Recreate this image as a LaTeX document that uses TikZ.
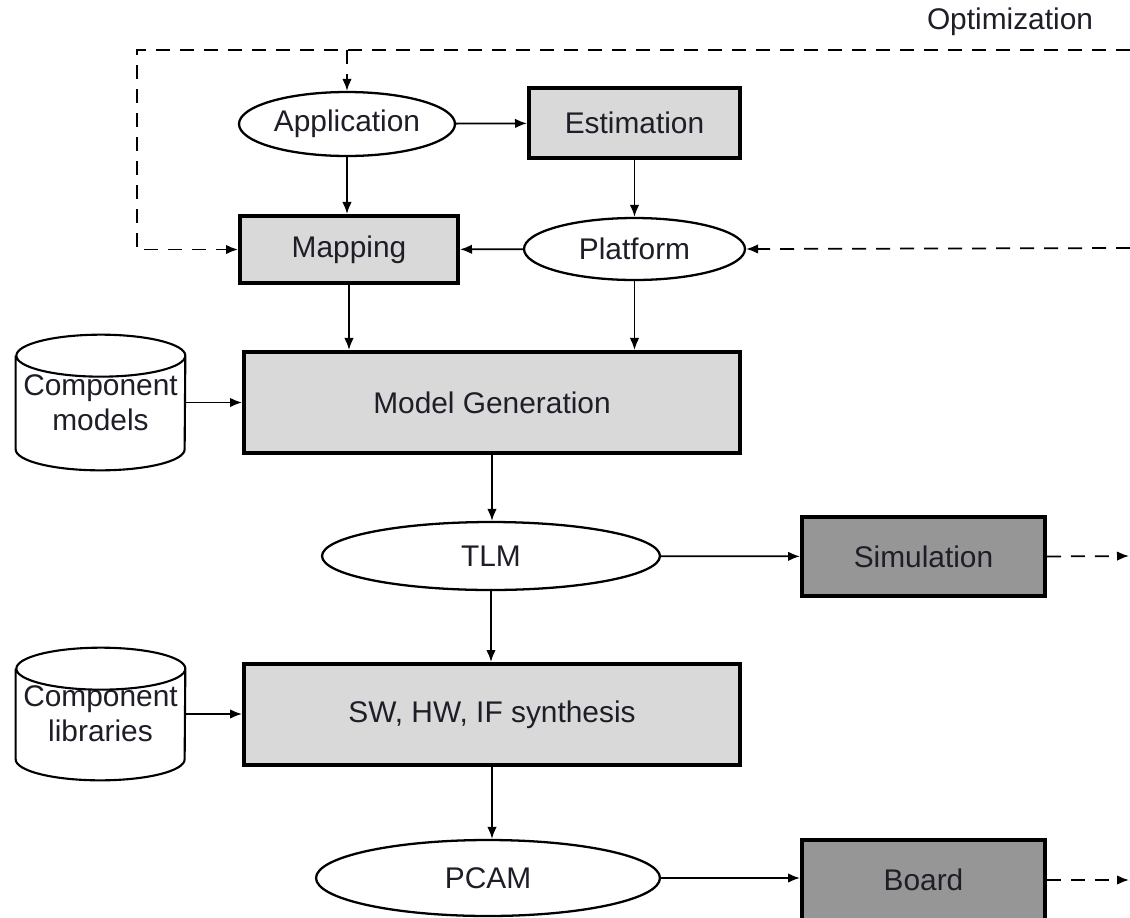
\documentclass[tikz,border=0pt]{standalone}
\usepackage{fontspec}
\setmainfont{Liberation Sans}
\usetikzlibrary{shapes.geometric,arrows.meta}
\definecolor{lightfill}{RGB}{217,217,217}
\definecolor{darkfill}{RGB}{150,150,150}
\definecolor{txt}{RGB}{30,30,40}
\begin{document}
\begin{tikzpicture}[x=0.02cm,y=-0.02cm,
  font=\fontsize{17}{20}\selectfont, text=txt,
  box/.style={draw, line width=2.3pt, rectangle, inner sep=0pt, fill=lightfill},
  darkbox/.style={box, fill=darkfill},
  oval/.style={draw, line width=1.3pt, ellipse, inner sep=0pt, fill=white},
  arr/.style={-{Latex[length=0.24cm,width=0.19cm]}, line width=1pt},
  darr/.style={arr, dash pattern=on 0.28cm off 0.2cm},
  cyltext/.style={align=center, inner sep=0pt, minimum width=3.38cm}]
\useasboundingbox (0,0) rectangle (1130,917);
\clip (0,0) rectangle (1130,917);

% nodes
\node[oval, minimum width=4.32cm, minimum height=1.28cm] (app) at (347,124) {Application};
\node[box, minimum width=4.22cm, minimum height=1.40cm] (est) at (634.5,123) {Estimation};
\node[box, minimum width=4.36cm, minimum height=1.34cm] (map) at (349,249.5) {Mapping};
\node[oval, minimum width=4.42cm, minimum height=1.24cm] (plat) at (634.5,249) {Platform};
\node[box, minimum width=9.92cm, minimum height=2.02cm] (mg) at (492,402.5) {Model Generation};
\node[oval, minimum width=6.76cm, minimum height=1.36cm] (tlm) at (491,556) {TLM};
\node[darkbox, minimum width=4.86cm, minimum height=1.58cm] (sim) at (923.5,556.5) {Simulation};
\node[box, minimum width=9.92cm, minimum height=2.02cm] (sw) at (492,714.5) {SW, HW, IF synthesis};
\node[oval, minimum width=6.88cm, minimum height=1.52cm] (pcam) at (488,878) {PCAM};
\node[darkbox, minimum width=4.86cm, minimum height=1.6cm] (board) at (923.5,880) {Board};
\node[inner sep=0pt] (opt) at (1010,22) {Optimization};

% cylinders
\node[cyltext, minimum height=2.7cm] (cm) at (100.5,402.5) {Component\\models};
\draw[line width=1.2pt] ([yshift=-0.42cm]cm.north west) -- ([yshift=0.42cm]cm.south west)
  arc[start angle=180,end angle=360,x radius=1.69cm,y radius=0.42cm]
  -- ([yshift=-0.42cm]cm.north east)
  arc[start angle=0,end angle=180,x radius=1.69cm,y radius=0.42cm]
  arc[start angle=180,end angle=360,x radius=1.69cm,y radius=0.42cm];
\node[cyltext, minimum height=2.64cm] (cl) at (100.5,714) {Component\\libraries};
\draw[line width=1.2pt] ([yshift=-0.42cm]cl.north west) -- ([yshift=0.42cm]cl.south west)
  arc[start angle=180,end angle=360,x radius=1.69cm,y radius=0.42cm]
  -- ([yshift=-0.42cm]cl.north east)
  arc[start angle=0,end angle=180,x radius=1.69cm,y radius=0.42cm]
  arc[start angle=180,end angle=360,x radius=1.69cm,y radius=0.42cm];

% solid connectors
\draw[arr] (app) -- (est);
\draw[arr] (app.south) -- (app.south |- map.north);
\draw[arr] (est.south) -- (est.south |- plat.north);
\draw[arr] (plat) -- (map);
\draw[arr] (map.south) -- (map.south |- mg.north);
\draw[arr] (plat.south) -- (plat.south |- mg.north);
\draw[arr] (cm.east) -- (cm.east -| mg.west);
\draw[arr] (mg.south) -- (mg.south |- tlm.north);
\draw[arr] (tlm) -- (sim);
\draw[arr] (tlm.south) -- (tlm.south |- sw.north);
\draw[arr] (cl.east) -- (cl.east -| sw.west);
\draw[arr] (sw.south) -- (sw.south |- pcam.north);
\draw[arr] (pcam.east) -- (pcam.east -| board.west);

% dashed optimization loop
\coordinate (topR) at (1130,50);
\coordinate (topL) at (137,50);
\coordinate (platR) at (1130,248);
\coordinate (simR) at (1129,556);
\coordinate (boardR) at (1129,880);
\draw[darr] (topR) -- (topL) |- (map.west);
\draw[darr] (app.north |- topL) -- (app.north);
\draw[darr] (platR) -- (plat.east);
\draw[darr] (sim.east) -- (simR);
\draw[darr] (board.east) -- (boardR);
\end{tikzpicture}
\end{document}
